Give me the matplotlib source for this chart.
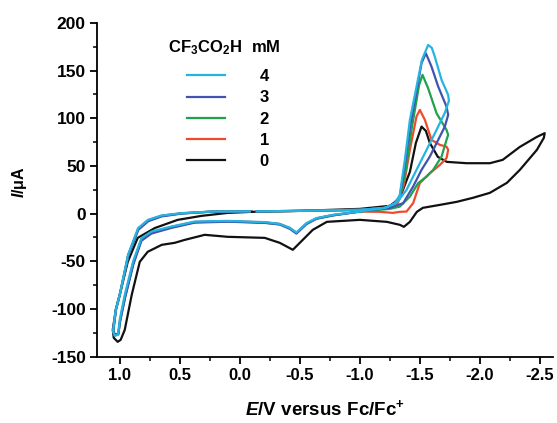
import matplotlib
matplotlib.use("Agg")
import matplotlib.pyplot as plt
from matplotlib.ticker import MultipleLocator
from matplotlib.lines import Line2D

plt.rcParams['font.family'] = ['Liberation Sans', 'DejaVu Sans']
plt.rcParams['font.weight'] = 'bold'
plt.rcParams['mathtext.fontset'] = 'custom'
plt.rcParams['mathtext.rm'] = 'Liberation Sans:bold'
plt.rcParams['mathtext.it'] = 'Liberation Sans:bold:italic'
plt.rcParams['mathtext.bf'] = 'Liberation Sans:bold'

# ---- data (E in V vs Fc/Fc+, I in uA) ----
conc_labels = ["4", "3", "2", "1", "0"]
colors = ["#25b4e2", "#4152b0", "#1ea24c", "#f04a2e", "#111111"]

E_0 = [-0.10, -0.50, -1.00, -1.25, -1.33, -1.417, -1.467, -1.514, -1.55, -1.583, -1.65, -1.725,
       -1.89, -2.083, -2.19, -2.333, -2.475, -2.54, -2.533, -2.475, -2.333, -2.225, -2.083, -1.942,
       -1.808, -1.667, -1.525, -1.475, -1.417, -1.367, -1.333, -1.225, -1.0, -0.725, -0.608, -0.442,
       -0.333, -0.208, 0.1, 0.292, 0.458, 0.542, 0.65, 0.767, 0.833, 0.9, 0.958, 0.992, 1.017, 1.05,
       1.058, 1.033, 1.0, 0.933, 0.85, 0.708, 0.517, 0.317, 0.1, -0.10]
I_0 = [1.8, 2.8, 4.9, 8.1, 15.4, 43.7, 74.1, 91.2, 86.7, 74.1, 59.4, 54.2,
       52.8, 52.8, 56.3, 69.9, 80.4, 84.3, 79.4, 66.8, 45.8, 32.2, 21.7, 16.5,
       12.3, 9.1, 6.0, 1.8, -8.7, -13.9, -11.8, -8.7, -6.6, -8.7, -17.1, -38.0,
       -30.7, -25.5, -24.4, -22.3, -27.6, -30.7, -32.8, -40.1, -50.6, -85.2, -121.9, -132.4, -134.5, -130.3,
       -121.9, -100.9, -85.2, -50.6, -25.5, -15.2, -6.6, -2.4, 0.7, 1.8]

E_4 = [-0.142, -0.50, -1.00, -1.208, -1.292, -1.333, -1.375, -1.417, -1.467, -1.517, -1.569, -1.60,
       -1.625, -1.681, -1.736, -1.742, -1.708, -1.639, -1.556, -1.472, -1.389, -1.306, -1.208, -1.0,
       -0.775, -0.639, -0.556, -0.472, -0.417, -0.333, -0.208, 0.1, 0.375, 0.569, 0.736, 0.819,
       0.889, 0.958, 1.0, 1.014, 1.042, 1.056, 1.033, 1.0, 0.931, 0.847, 0.764, 0.653, 0.486,
       0.236, -0.083]
I_4 = [2.3, 2.8, 3.9, 6.0, 10.2, 19.6, 56.3, 98.1, 129.7, 161.1, 176.8, 173.7,
       164.3, 140.1, 124.4, 118.1, 105.6, 87.7, 66.8, 45.8, 24.8, 11.2, 6.0, 2.1,
       -1.4, -4.8, -10.1, -19.9, -15.0, -10.8, -9.0, -7.7, -8.4, -13.6, -18.9, -25.8,
       -50.3, -85.2, -111.4, -127.1, -128.2, -123.7, -100.9, -85.2, -43.3, -15.3, -6.6, -2.1, 0.4,
       2.1, 2.3]

E_3 = [-0.142, -0.50, -1.00, -1.25, -1.333, -1.375, -1.417, -1.467, -1.514, -1.55, -1.597, -1.653,
       -1.722, -1.736, -1.708, -1.653, -1.583, -1.514, -1.444, -1.361, -1.25, -1.0,
       -0.775, -0.639, -0.556, -0.472, -0.417, -0.333, -0.208, 0.1, 0.375, 0.569, 0.736, 0.819,
       0.886, 0.955, 0.997, 1.012, 1.04, 1.054, 1.031, 0.998, 0.929, 0.845, 0.762, 0.651, 0.484,
       0.236, -0.083]
I_3 = [2.3, 2.8, 3.9, 6.5, 17.5, 51.0, 89.8, 124.4, 157.7, 168.1, 154.1, 133.1,
       112.2, 103.5, 91.2, 77.3, 59.7, 45.8, 28.3, 10.9, 6.0, 2.1,
       -2.0, -5.5, -11.0, -21.0, -16.0, -11.5, -9.8, -8.5, -9.5, -15.0, -21.0, -28.5,
       -53.0, -88.0, -113.0, -126.0, -127.0, -122.5, -100.0, -84.0, -44.0, -17.0, -8.0, -3.0, 0.0,
       2.0, 2.3]

E_2 = [-0.142, -0.50, -1.00, -1.25, -1.333, -1.383, -1.433, -1.494, -1.522, -1.569, -1.639, -1.722,
       -1.736, -1.722, -1.681, -1.611, -1.556, -1.486, -1.417, -1.333, -1.25, -1.0,
       -0.775, -0.639, -0.556, -0.472, -0.417, -0.333, -0.208, 0.1, 0.375, 0.569, 0.736, 0.819,
       0.886, 0.955, 0.997, 1.012, 1.04, 1.054, 1.031, 0.998, 0.929, 0.845, 0.762, 0.651, 0.484,
       0.236, -0.083]
I_2 = [2.3, 2.8, 3.9, 6.0, 16.5, 45.8, 89.8, 134.9, 145.4, 131.4, 105.2, 87.7,
       82.5, 77.3, 59.7, 45.8, 38.8, 31.9, 17.8, 7.3, 4.9, 2.1,
       -1.8, -5.2, -10.6, -20.5, -15.5, -11.2, -9.5, -8.2, -9.0, -14.5, -20.0, -27.0,
       -52.0, -87.0, -112.5, -126.5, -127.5, -123.0, -100.5, -84.5, -43.8, -16.0, -7.2, -2.5, 0.2,
       2.0, 2.3]

E_1 = [-0.142, -0.50, -1.00, -1.25, -1.317, -1.367, -1.417, -1.472, -1.50, -1.542, -1.597, -1.667,
       -1.722, -1.736, -1.722, -1.667, -1.583, -1.50, -1.444, -1.389, -1.333, -1.275, -1.167, -1.0,
       -0.775, -0.639, -0.556, -0.472, -0.417, -0.333, -0.208, 0.1, 0.375, 0.569, 0.736, 0.819,
       0.886, 0.955, 0.997, 1.012, 1.04, 1.054, 1.031, 0.998, 0.929, 0.845, 0.762, 0.651, 0.484,
       0.236, -0.083]
I_1 = [2.3, 2.8, 3.9, 6.0, 11.2, 30.1, 66.8, 101.7, 108.7, 98.2, 77.3, 72.0,
       70.2, 66.8, 58.1, 51.0, 42.3, 31.9, 10.9, 2.1, 1.8, 0.7, 1.8, 2.1,
       -1.6, -5.0, -10.4, -20.2, -15.2, -11.0, -9.2, -8.0, -8.8, -14.0, -19.5, -26.5,
       -51.0, -86.0, -112.0, -126.8, -127.8, -123.3, -100.7, -84.8, -43.5, -15.6, -6.9, -2.3, 0.3,
       2.0, 2.3]

E_series = [E_4, E_3, E_2, E_1, E_0]
I_series = [I_4, I_3, I_2, I_1, I_0]

fig = plt.figure(figsize=(5.57, 4.23), dpi=100)
ax = fig.add_axes([0.174, 0.157, 0.819, 0.789])

# draw black first so coloured curves lie above
for E, I, c in reversed(list(zip(E_series, I_series, colors))):
    ax.plot(E, I, color=c, lw=1.6, solid_joinstyle='round')

ax.set_xlim(1.19, -2.61)
ax.set_ylim(-150, 200)
ax.xaxis.set_minor_locator(MultipleLocator(0.25))
ax.yaxis.set_minor_locator(MultipleLocator(25))
ax.set_xticks([1.0, 0.5, 0.0, -0.5, -1.0, -1.5, -2.0, -2.5])
ax.set_xticklabels(["1.0", "0.5", "0.0", "-0.5", "-1.0", "-1.5", "-2.0", "-2.5"])
ax.set_yticks([200, 150, 100, 50, 0, -50, -100, -150])
ax.set_yticklabels(["200", "150", "100", "50", "0", "-50", "-100", "-150"])

for s in ['top', 'right']:
    ax.spines[s].set_visible(False)
for s in ['left', 'bottom']:
    ax.spines[s].set_linewidth(1.3)
ax.tick_params(which='major', direction='out', length=5, width=1.3, pad=3)
ax.tick_params(axis='x', which='major', labelsize=12)
ax.tick_params(axis='y', which='major', labelsize=12.5)
ax.tick_params(which='minor', direction='out', length=3, width=1.1)
for lab in ax.get_xticklabels() + ax.get_yticklabels():
    lab.set_fontweight('bold')

ax.set_xlabel(r'$\mathit{E}\mathrm{/V\ versus\ Fc/Fc^{+}}$', fontsize=13.5)
ax.xaxis.set_label_coords(0.5, -0.128)
ax.set_ylabel(r'$\mathit{I}\mathrm{/\mu A}$', fontsize=11.5)
ax.yaxis.set_label_coords(-0.149, 0.523)

handles = [Line2D([0], [0], color=c, lw=1.6) for c in colors]
leg = ax.legend(handles, conc_labels, frameon=False,
                loc='upper left', bbox_to_anchor=(0.182, 0.881), handlelength=2.28,
                handletextpad=2.1, labelspacing=0.37, fontsize=12,
                borderaxespad=0.0)
for t in leg.get_texts():
    t.set_fontweight('bold')
fig.text(224 / 557, 1 - 48 / 423, r'$\mathrm{CF_3CO_2H\ \ mM}$', fontsize=12,
         ha='center', va='center')

fig.savefig("out.png", dpi=100)
